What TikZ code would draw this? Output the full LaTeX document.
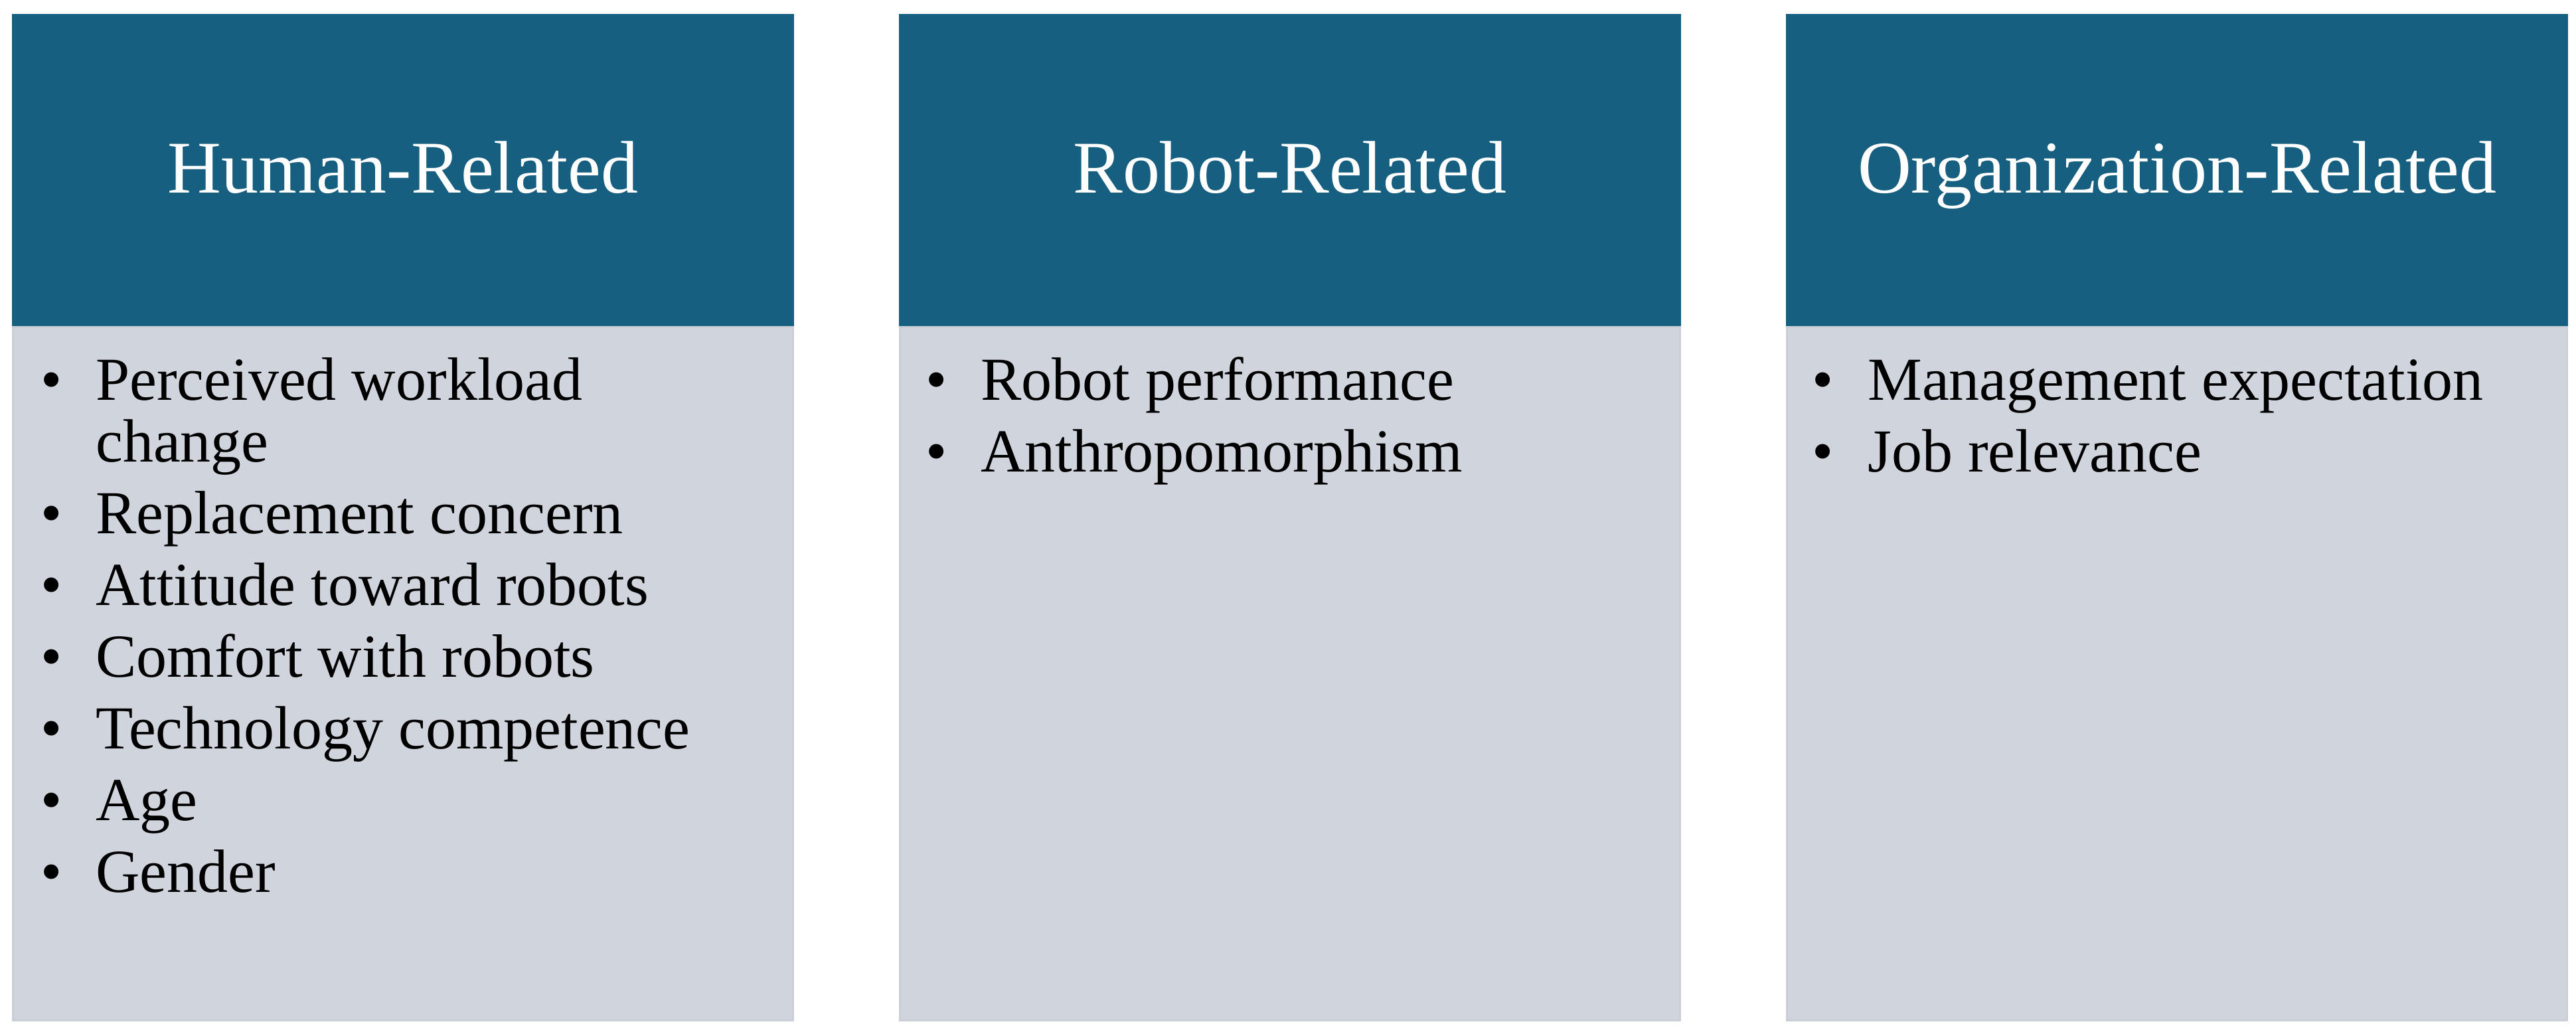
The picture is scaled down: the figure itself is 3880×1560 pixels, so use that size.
\documentclass[tikz,border=0pt]{standalone}
\usepackage{fontspec}
\setmainfont{Liberation Serif}
\definecolor{hdr}{HTML}{175F80}
\definecolor{bodyc}{HTML}{D0D5DD}
\definecolor{bodyedge}{HTML}{C9CED7}
\begin{document}
\begin{tikzpicture}[x=1pt,y=-1pt,
  hdrbox/.style={fill=hdr, draw=none, minimum width=1178pt, minimum height=470pt, anchor=north west, inner sep=0pt, outer sep=0pt},
  bodybox/.style={fill=bodyc, draw=bodyedge, line width=3pt, minimum width=1175pt, minimum height=1044pt, anchor=north west, inner sep=0pt, outer sep=0pt},
  htext/.style={text=white, font=\fontsize{112}{120}\selectfont, anchor=base, inner sep=0pt},
  btext/.style={text=black, font=\fontsize{92}{100}\selectfont, anchor=base west, inner sep=0pt},
  bul/.style={text=black, font=\fontsize{92}{100}\selectfont, anchor=base, inner sep=0pt}]
\useasboundingbox (0,0) rectangle (3880,1560);
\fill[white] (0,0) rectangle (3880,1560);
% boxes
\foreach \n/\x in {a/18, b/1354, c/2690}{
  \node[bodybox] (body\n) at (\x+1.5,492.5) {};
  \node[hdrbox] (head\n) at (\x,21) {};
}
% headers
\node[htext] (ha) at (607,290) {Human-Related};
\node[htext] (hb) at (1943,290) {Robot-Related};
\node[htext] (hc) at (3279,290) {Organization-Related};
% box 1 items
\foreach \y/\t [count=\i] in {602/Perceived workload, 803/Replacement concern, 911/Attitude toward robots, 1019/Comfort with robots, 1127/Technology competence, 1235/Age, 1343/Gender}{
  \node[bul] (ba\i) at (78,\y) {•};
  \node[btext] (ta\i) at (144,\y) {\t};
}
\node[btext] (tacont) at (144,695) {change};
% box 2 items
\foreach \y/\t [count=\i] in {602/Robot performance, 710/Anthropomorphism}{
  \node[bul] (bb\i) at (1411,\y) {•};
  \node[btext] (tb\i) at (1477,\y) {\t};
}
% box 3 items
\foreach \y/\t [count=\i] in {602/Management expectation, 710/Job relevance}{
  \node[bul] (bc\i) at (2746,\y) {•};
  \node[btext] (tc\i) at (2813,\y) {\t};
}
\end{tikzpicture}
\end{document}
